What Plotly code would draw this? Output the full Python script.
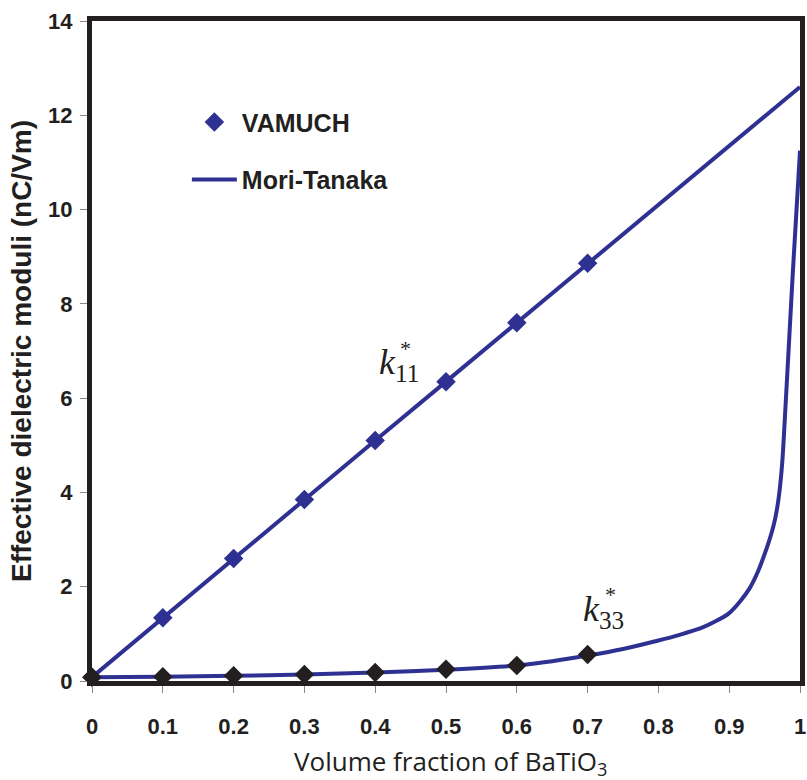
import plotly.graph_objects as go

# VAMUCH data points
x_vamuch = [0.0, 0.1, 0.2, 0.3, 0.4, 0.5, 0.6, 0.7]
k11_vamuch = [0.08, 1.34, 2.60, 3.85, 5.10, 6.35, 7.60, 8.86]
k33_vamuch = [0.08, 0.09, 0.11, 0.14, 0.18, 0.25, 0.33, 0.56]

# Mori-Tanaka curves
x_mt11 = [0.0, 0.1, 0.2, 0.3, 0.4, 0.5, 0.6, 0.7, 0.8, 0.9, 1.0]
k11_mt = [0.08, 1.34, 2.60, 3.85, 5.10, 6.35, 7.60, 8.86, 10.10, 11.35, 12.60]

x_mt33 = [0.0, 0.1, 0.2, 0.3, 0.4, 0.5, 0.6, 0.65, 0.7, 0.75, 0.8, 0.83, 0.86,
          0.88, 0.9, 0.915, 0.929, 0.94, 0.953, 0.96, 0.965, 0.97, 0.975, 0.98,
          0.99, 1.0]
k33_mt = [0.08, 0.09, 0.11, 0.14, 0.18, 0.24, 0.33, 0.42, 0.54, 0.68, 0.86, 0.98, 1.12,
          1.26, 1.44, 1.68, 1.97, 2.3, 2.82, 3.15, 3.45, 3.9, 4.65, 5.95,
          8.7, 11.25]

x_ticks = [0, 0.1, 0.2, 0.3, 0.4, 0.5, 0.6, 0.7, 0.8, 0.9, 1]
x_tick_labels = ["0", "0.1", "0.2", "0.3", "0.4", "0.5", "0.6", "0.7", "0.8", "0.9", "1"]
y_ticks = [0, 2, 4, 6, 8, 10, 12, 14]

BLUE = "#2e3192"
BLACK = "#231f20"

fig = go.Figure()

fig.add_trace(go.Scatter(x=x_mt11, y=k11_mt, mode="lines",
                         line=dict(color=BLUE, width=4), name="Mori-Tanaka",
                         legendgroup="b", legendrank=2, cliponaxis=False))
fig.add_trace(go.Scatter(x=x_mt33, y=k33_mt, mode="lines",
                         line=dict(color=BLUE, width=4, shape="spline", smoothing=0.6),
                         showlegend=False, cliponaxis=False))
fig.add_trace(go.Scatter(x=x_vamuch, y=k11_vamuch, mode="markers",
                         marker=dict(symbol="diamond", size=15, color=BLUE),
                         name="VAMUCH", legendgroup="a", legendrank=1,
                         cliponaxis=False))
fig.add_trace(go.Scatter(x=x_vamuch, y=k33_vamuch, mode="markers",
                         marker=dict(symbol="diamond", size=15, color=BLACK),
                         showlegend=False, cliponaxis=False))

tickfont = dict(family="Liberation Sans", size=22, color=BLACK, weight="bold")

fig.update_xaxes(range=[0, 1], tickvals=x_ticks, ticktext=x_tick_labels,
                 showgrid=False, zeroline=False, automargin=False,
                 showline=True, linewidth=5, linecolor=BLACK, mirror=True,
                 ticks="outside", ticklen=7, tickwidth=1, tickcolor="#888888",
                 ticklabelstandoff=15, tickfont=tickfont)
fig.update_yaxes(range=[0, 14], tickvals=y_ticks,
                 showgrid=False, zeroline=False, automargin=False,
                 showline=True, linewidth=5, linecolor=BLACK, mirror=True,
                 ticks="outside", ticklen=7, tickwidth=1, tickcolor="#888888",
                 ticklabelstandoff=3, tickfont=tickfont,
                 title=dict(text="Effective dielectric moduli (nC/Vm)",
                            font=dict(family="Liberation Sans", size=28, color=BLACK,
                                      weight="bold"),
                            standoff=10))

# x-axis title
fig.add_annotation(x=0.507, y=-0.123, xref="paper", yref="paper",
                   text="Volume fraction of BaTiO<sub>3</sub>",
                   showarrow=False, xanchor="center", yanchor="middle",
                   font=dict(family="Open Sans", size=26, color=BLACK))

fig.add_annotation(x=0.4, y=6.5, xref="x", yref="y", text="<i>k</i><sub>11</sub>",
                   showarrow=False, xanchor="left", yanchor="top",
                   xshift=2, yshift=35,
                   font=dict(family="Liberation Serif", size=36, color=BLACK))
fig.add_annotation(x=0.4, y=6.5, xref="x", yref="y", text="*",
                   showarrow=False, xanchor="left", yanchor="top",
                   xshift=23, yshift=41,
                   font=dict(family="Liberation Serif", size=22, color=BLACK))
fig.add_annotation(x=0.7, y=1.8, xref="x", yref="y", text="<i>k</i><sub>33</sub>",
                   showarrow=False, xanchor="left", yanchor="top",
                   xshift=-7, yshift=9,
                   font=dict(family="Liberation Serif", size=36, color=BLACK))
fig.add_annotation(x=0.7, y=1.8, xref="x", yref="y", text="*",
                   showarrow=False, xanchor="left", yanchor="top",
                   xshift=15, yshift=16,
                   font=dict(family="Liberation Serif", size=22, color=BLACK))

fig.update_layout(
    width=807, height=780,
    margin=dict(l=92, r=7, t=21, b=99),
    plot_bgcolor="white", paper_bgcolor="white",
    showlegend=True,
    legend=dict(x=0.134, y=0.8816, xanchor="left", yanchor="top",
                bgcolor="rgba(0,0,0,0)", traceorder="grouped",
                tracegroupgap=22, itemwidth=45,
                font=dict(family="Liberation Sans", size=25, color=BLACK,
                          weight="bold")),
)

fig.write_html("out.html")
